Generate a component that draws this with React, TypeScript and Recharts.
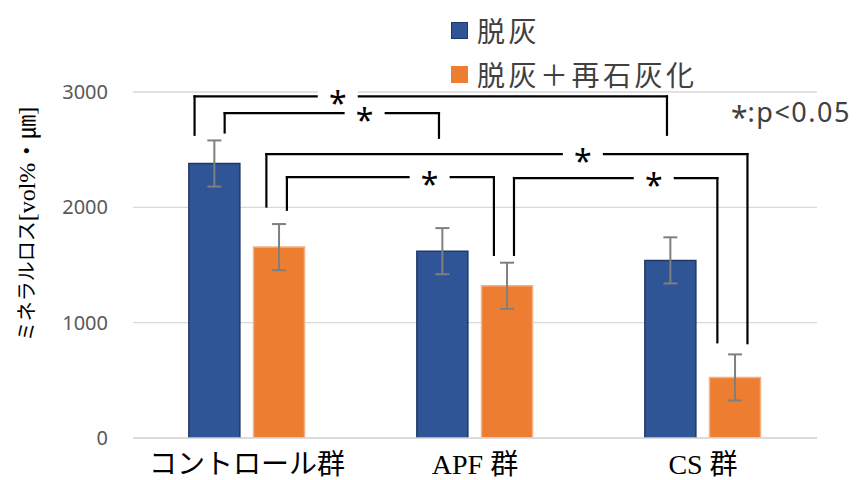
import React from 'react';
import {
  BarChart,
  Bar,
  XAxis,
  YAxis,
  CartesianGrid,
  ErrorBar,
  Legend,
  ReferenceLine,
  ReferenceDot,
} from 'recharts';

const GROUPS = ['コントロール群', 'APF 群', 'CS 群'];
const DEMIN = [2380, 1620, 1540];
const DEMIN_ERR = [200, 200, 200];
const REMIN = [1655, 1320, 525];
const REMIN_ERR = [200, 200, 200];
const Y_TICKS = [0, 1000, 2000, 3000];
const SERIES_NAMES = ['脱灰', '脱灰＋再石灰化'];
const Y_TITLE_JP = 'ミネラルロス';
const Y_TITLE_UNIT = '[vol%・㎛]';
const NOTE = 'p<0.05';

// significance brackets, x in category units (0..3), y in mineral-loss units
const BRACKET_X1 = [0.27, 0.402, 0.585, 0.675, 1.671];
const BRACKET_X2 = [2.342, 1.342, 2.695, 1.583, 2.563];
const BRACKET_TOP = [2962, 2816, 2462, 2262, 2254];
const BRACKET_LEG1 = [2629, 2649, 2007, 1979, 1588];
const BRACKET_LEG2 = [2629, 2603, 822, 1588, 830];
const BRACKET_STAR = [0.898, 1.016, 1.973, 1.301, 2.284];

const BLUE = '#2F5597';
const ORANGE = '#ED7D31';
const SANS = "'Noto Sans', 'Noto Sans CJK JP', sans-serif";
const JP = "'Noto Sans CJK JP', sans-serif";
const SERIF = "'Liberation Serif', 'Noto Sans CJK JP', serif";

const data = GROUPS.map((g, i) => ({
  group: g,
  pos: i + 0.5, // band centre on the hidden unit axis
  demin: DEMIN[i],
  deminErr: DEMIN_ERR[i],
  remin: REMIN[i],
  reminErr: REMIN_ERR[i],
}));

function GroupTick({ x, y, payload }: any) {
  return (
    <text x={x} y={y + 34} textAnchor="middle" fontFamily={SERIF} fontSize={28} fill="#000">
      {payload.value}
    </text>
  );
}

function YTitle({ viewBox }: any) {
  const cx = viewBox.x + 27;
  const cy = viewBox.y + viewBox.height / 2 - 41;
  return (
    <text
      x={cx}
      y={cy}
      transform={`rotate(-90 ${cx} ${cy})`}
      textAnchor="middle"
      dominantBaseline="central"
      fontFamily={SERIF}
      fill="#000"
    >
      <tspan fontSize={20}>{Y_TITLE_JP}</tspan>
      <tspan fontSize={24}>{Y_TITLE_UNIT}</tspan>
    </text>
  );
}

function StarMark({ cx, cy }: any) {
  return (
    <g>
      <rect x={cx - 20} y={cy - 6} width={40} height={12} fill="#fff" />
      <text x={cx} y={cy + 19} textAnchor="middle" fontFamily={SANS} fontSize={32} fill="#000">
        *
      </text>
    </g>
  );
}

function LegendBox() {
  const colorsList = [BLUE, ORANGE];
  return (
    <div style={{ fontFamily: JP, fontSize: 28, letterSpacing: 3.5, color: '#404040' }}>
      {SERIES_NAMES.map((name, i) => (
        <div key={name} style={{ display: 'flex', alignItems: 'center', height: 44 }}>
          <span
            style={{
              display: 'inline-block',
              width: 17,
              height: 17,
              background: colorsList[i],
              border: i === 0 ? '1px solid #1F3864' : 'none',
              boxSizing: 'border-box',
              marginRight: 9,
            }}
          />
          <span>{name}</span>
        </div>
      ))}
    </div>
  );
}

export default function App() {
  const lineProps = {
    xAxisId: 'u',
    stroke: '#000',
    strokeWidth: 2.2,
    strokeLinecap: 'square' as const,
    ifOverflow: 'visible' as const,
  };

  return (
    <div style={{ position: 'absolute', left: 0, top: 0, width: 864, height: 480, background: '#fff' }}>
      <BarChart
        width={864}
        height={480}
        data={data}
        margin={{ top: 92, right: 47, bottom: 0, left: 0 }}
        barCategoryGap="24.5%"
        barGap="6%"
      >
        <CartesianGrid horizontal vertical={false} stroke="#D9D9D9" strokeWidth={1.3} />
        <XAxis
          dataKey="group"
          height={42}
          tickLine={false}
          tickSize={0}
          axisLine={{ stroke: '#D9D9D9', strokeWidth: 1.3 }}
          tick={<GroupTick />}
          interval={0}
        />
        <XAxis xAxisId="u" dataKey="pos" type="number" domain={[0, 3]} allowDataOverflow hide />
        <YAxis
          width={133}
          domain={[0, 3000]}
          ticks={Y_TICKS}
          allowDataOverflow
          axisLine={false}
          tickLine={false}
          tickSize={0}
          tickMargin={25}
          tick={{ fill: '#595959', fontSize: 20, fontFamily: SANS }}
          label={<YTitle />}
        />
        <Legend
          layout="vertical"
          align="center"
          verticalAlign="middle"
          wrapperStyle={{ top: 8, left: 451, width: 320 }}
          content={<LegendBox />}
        />
        <Bar dataKey="demin" name={SERIES_NAMES[0]} fill={BLUE} stroke="#1F3864" strokeWidth={1.5} isAnimationActive={false}>
          <ErrorBar dataKey="deminErr" width={7} stroke="#7F7F7F" strokeWidth={2} isAnimationActive={false} />
        </Bar>
        <Bar dataKey="remin" name={SERIES_NAMES[1]} fill={ORANGE} stroke="#F4B183" strokeWidth={1.5} isAnimationActive={false}>
          <ErrorBar dataKey="reminErr" width={7} stroke="#7F7F7F" strokeWidth={2} isAnimationActive={false} />
        </Bar>
        {BRACKET_TOP.map((top, i) => (
          <ReferenceLine
            key={`l${i}`}
            {...lineProps}
            segment={[{ x: BRACKET_X1[i], y: BRACKET_LEG1[i] }, { x: BRACKET_X1[i], y: top }]}
          />
        ))}
        {BRACKET_TOP.map((top, i) => (
          <ReferenceLine
            key={`t${i}`}
            {...lineProps}
            segment={[{ x: BRACKET_X1[i], y: top }, { x: BRACKET_X2[i], y: top }]}
          />
        ))}
        {BRACKET_TOP.map((top, i) => (
          <ReferenceLine
            key={`r${i}`}
            {...lineProps}
            segment={[{ x: BRACKET_X2[i], y: top }, { x: BRACKET_X2[i], y: BRACKET_LEG2[i] }]}
          />
        ))}
        {BRACKET_TOP.map((top, i) => (
          <ReferenceDot
            key={`s${i}`}
            xAxisId="u"
            x={BRACKET_STAR[i]}
            y={top}
            r={0}
            ifOverflow="visible"
            shape={(p: any) => <StarMark cx={p.cx} cy={p.cy} />}
          />
        ))}
      </BarChart>
      <div
        style={{
          position: 'absolute',
          left: 731,
          top: 90,
          fontFamily: SANS,
          fontSize: 27,
          letterSpacing: 1.5,
          color: '#404040',
          whiteSpace: 'nowrap',
        }}
      >
        <span style={{ fontSize: 30, position: 'relative', top: 6, letterSpacing: 0 }}>*</span>:{NOTE}
      </div>
    </div>
  );
}
